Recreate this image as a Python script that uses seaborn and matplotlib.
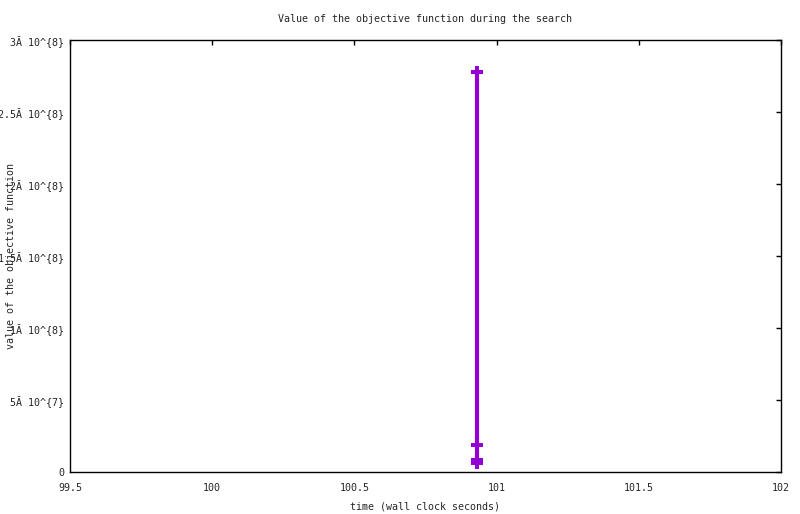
import matplotlib
matplotlib.use("Agg")
import matplotlib.pyplot as plt
import seaborn as sns
import pandas as pd

times = [100.93, 100.93, 100.93, 100.93]
values = [2.78e8, 1.9e7, 8.5e6, 6.5e6]
yticks = [0, 5e7, 1e8, 1.5e8, 2e8, 2.5e8, 3e8]
ytick_labels = ["0", "5Ă 10^{7}", "1Ă 10^{8}", "1.5Ă 10^{8}", "2Ă 10^{8}", "2.5Ă 10^{8}", "3Ă 10^{8}"]
xticks = [99.5, 100, 100.5, 101, 101.5, 102]
xtick_labels = ["99.5", "100", "100.5", "101", "101.5", "102"]

sns.set_style("white")
plt.rcParams['font.family'] = ['DejaVu Sans Mono']

df = pd.DataFrame({"t": times, "v": values})
fig = plt.figure(figsize=(8, 5.14), dpi=100)
ax = fig.add_axes([70/800, 1-472/514, (781-70)/800, (472-40)/514])
sns.lineplot(data=df, x="t", y="v", sort=False, ax=ax, color="#9400d3",
             linewidth=3, marker="P", markersize=9, markeredgewidth=0, estimator=None)
ax.set_xlim(99.5, 102)
ax.set_ylim(0, 3e8)
ax.set_xticks(xticks)
ax.set_xticklabels(xtick_labels, fontsize=7.2)
ax.set_yticks(yticks)
ax.set_yticklabels(ytick_labels, fontsize=7.2)
ax.tick_params(axis="y", direction="in", length=3.6, width=1, right=True, color="black", pad=4)
ax.tick_params(axis="x", direction="in", length=3.6, width=1, top=True, color="black", pad=8)
for s in ax.spines.values():
    s.set_color("black")
    s.set_linewidth(1)
ax.set_xlabel("time (wall clock seconds)", fontsize=7.2, labelpad=6)
ax.set_ylabel("value of the objective function", fontsize=7.2)
ax.yaxis.set_label_coords(-0.076, 0.5)
ax.set_title("Value of the objective function during the search", fontsize=7.2, pad=13)
fig.savefig("out.png", dpi=100)
